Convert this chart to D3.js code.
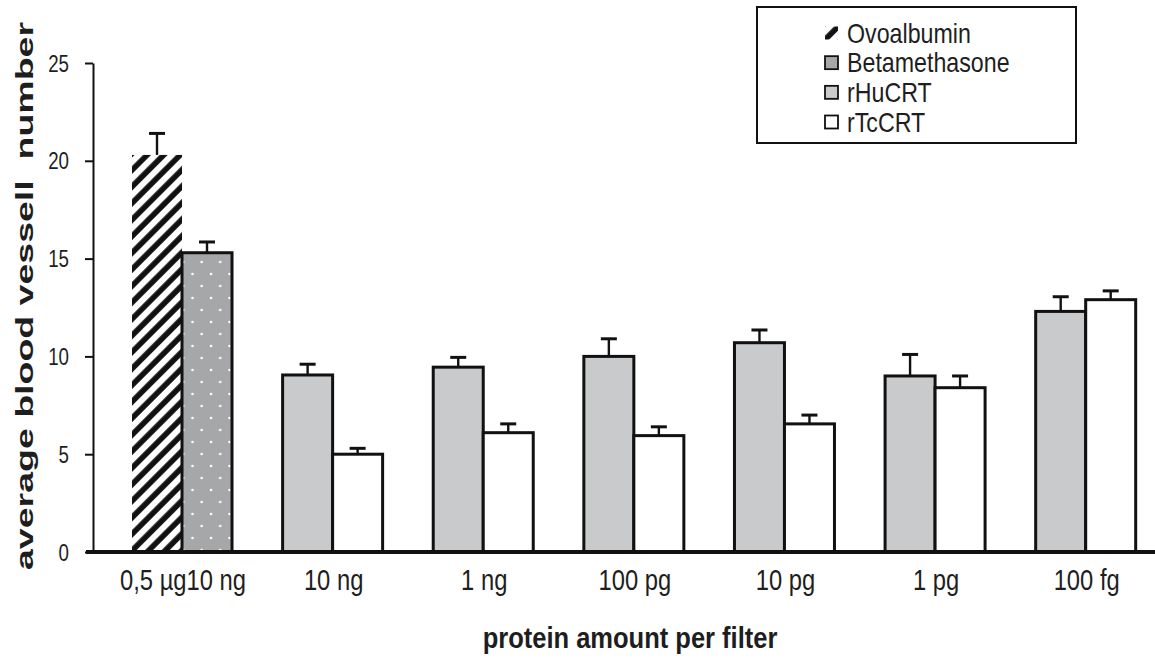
<!DOCTYPE html>
<html>
<head>
<meta charset="utf-8">
<script src="https://cdn.jsdelivr.net/npm/d3@7"></script>
<style>
  html, body { margin: 0; padding: 0; background: #fff; }
  svg { display: block; }
  text { font-family: "Liberation Sans", Arial, sans-serif; fill: #1e1e1e; }
</style>
</head>
<body>
<svg id="chart" width="1155" height="658"></svg>
<script>
// ---- data ----
const categories = ["0,5 µg10 ng", "10 ng", "1 ng", "100 pg", "10 pg", "1 pg", "100 fg"];
const seriesNames = ["Ovoalbumin", "Betamethasone", "rHuCRT", "rTcCRT"];
// first group: controls
const ovoalbumin = [20.3];
const ovoalbuminErr = [1.1];
const betamethasone = [15.3];
const betamethasoneErr = [0.55];
// remaining groups
const rHuCRT    = [9.05, 9.45, 10.0, 10.7, 9.0, 12.3];
const rHuCRTErr = [0.55, 0.5, 0.9, 0.65, 1.1, 0.75];
const rTcCRT    = [5.0, 6.1, 5.95, 6.55, 8.4, 12.9];
const rTcCRTErr = [0.3, 0.45, 0.45, 0.45, 0.6, 0.45];
const yTicks = [0, 5, 10, 15, 20, 25];
const yTitle = "average blood vessell  number";
const xTitle = "protein amount per filter";

// ---- build bar table ----
const bars = [];
bars.push({cat: categories[0], slot: 0, series: "Ovoalbumin", v: ovoalbumin[0], e: ovoalbuminErr[0]});
bars.push({cat: categories[0], slot: 1, series: "Betamethasone", v: betamethasone[0], e: betamethasoneErr[0]});
for (let i = 0; i < rHuCRT.length; i++) {
  bars.push({cat: categories[i + 1], slot: 0, series: "rHuCRT", v: rHuCRT[i], e: rHuCRTErr[i]});
  bars.push({cat: categories[i + 1], slot: 1, series: "rTcCRT", v: rTcCRT[i], e: rTcCRTErr[i]});
}

const svg = d3.select("#chart");

// patterns
const defs = svg.append("defs");
const hatch = defs.append("pattern").attr("id", "hatch")
  .attr("patternUnits", "userSpaceOnUse").attr("width", 11.7).attr("height", 11.7)
  .attr("patternTransform", "rotate(45)");
hatch.append("rect").attr("width", 11.7).attr("height", 11.7).attr("fill", "#fff");
hatch.append("line").attr("x1", 3).attr("x2", 3).attr("y1", 0).attr("y2", 11.7)
  .attr("stroke", "#111").attr("stroke-width", 5.6);
const dots = defs.append("pattern").attr("id", "dots")
  .attr("patternUnits", "userSpaceOnUse").attr("width", 18.5).attr("height", 24)
  .attr("x", 132).attr("y", 4);
dots.append("rect").attr("width", 18.5).attr("height", 24).attr("fill", "#a6a7a9");
dots.append("circle").attr("cx", 5).attr("cy", 6).attr("r", 1.3).attr("fill", "#fff");
dots.append("circle").attr("cx", 14.2).attr("cy", 18).attr("r", 1.3).attr("fill", "#fff");

const fills = {
  "Ovoalbumin": "url(#hatch)",
  "Betamethasone": "url(#dots)",
  "rHuCRT": "#c9cacc",
  "rTcCRT": "#ffffff"
};
const legendFills = {
  "Ovoalbumin": "url(#hatch)",
  "Betamethasone": "#a6a7a9",
  "rHuCRT": "#c9cacc",
  "rTcCRT": "#ffffff"
};

// ---- scales ----
const y = d3.scaleLinear().domain([0, 25]).range([552, 63]);
const x = d3.scaleBand().domain(categories).range([106.7, 1161])
  .paddingInner(0.336).paddingOuter(0.168);
const xs = d3.scaleBand().domain([0, 1]).range([0, x.bandwidth()]);

function ctext(g, tx, ty, str, opts) {
  const sx = opts.sx || 0.8;
  const t = g.append("text")
    .attr("transform", `translate(${tx},${ty}) scale(${sx},1)` + (opts.rotate ? ` rotate(${opts.rotate})` : ""))
    .attr("text-anchor", opts.anchor || "start")
    .attr("font-size", opts.size)
    .attr("font-weight", opts.weight || "normal")
    .style("white-space", "pre")
    .text(str);
  if (opts.dy) t.attr("dy", opts.dy);
  return t;
}

// ---- bars ----
const gBars = svg.append("g");
gBars.selectAll("rect.bar").data(bars).join("rect")
  .attr("class", "bar")
  .attr("x", d => x(d.cat) + xs(d.slot))
  .attr("y", d => y(d.v))
  .attr("width", xs.bandwidth())
  .attr("height", d => y(0) - y(d.v))
  .attr("fill", d => fills[d.series])
  .attr("stroke", d => d.series === "Ovoalbumin" ? "none" : "#111")
  .attr("stroke-width", 3);

// error bars
const gErr = svg.append("g").attr("stroke", "#111");
gErr.selectAll("line.stem").data(bars).join("line")
  .attr("x1", d => x(d.cat) + xs(d.slot) + xs.bandwidth() / 2)
  .attr("x2", d => x(d.cat) + xs(d.slot) + xs.bandwidth() / 2)
  .attr("y1", d => y(d.v))
  .attr("y2", d => y(d.v + d.e))
  .attr("stroke-width", 2.4);
gErr.selectAll("line.cap").data(bars).join("line")
  .attr("x1", d => x(d.cat) + xs(d.slot) + xs.bandwidth() / 2 - 8)
  .attr("x2", d => x(d.cat) + xs(d.slot) + xs.bandwidth() / 2 + 8)
  .attr("y1", d => y(d.v + d.e))
  .attr("y2", d => y(d.v + d.e))
  .attr("stroke-width", 3);

// ---- y axis ----
const gy = svg.append("g").attr("transform", "translate(93,0)")
  .call(d3.axisLeft(y).tickValues(yTicks).tickSize(8).tickSizeOuter(0).tickFormat(""));
gy.select(".domain").attr("stroke", "#111").attr("stroke-width", 2);
gy.selectAll(".tick line").attr("stroke", "#111").attr("stroke-width", 2);
const gyl = svg.append("g");
yTicks.forEach(t => {
  ctext(gyl, 69, y(t), String(t), {size: 24, sx: 0.78, anchor: "end", dy: "0.36em"});
});

// ---- x axis ----
svg.append("line").attr("x1", 86).attr("x2", 1155)
  .attr("y1", y(0)).attr("y2", y(0))
  .attr("stroke", "#111").attr("stroke-width", 4);
const gxl = svg.append("g");
categories.forEach(c => {
  ctext(gxl, x(c) + x.bandwidth() / 2 + 1, 590, c, {size: 29, sx: 0.82, anchor: "middle"});
});

// ---- titles ----
ctext(svg, 630, 648, xTitle, {size: 29, sx: 0.88, anchor: "middle", weight: "bold"});
ctext(svg, 33, 296, yTitle, {size: 37.5, sx: 0.66, anchor: "middle", weight: "bold", rotate: -90});

// ---- legend ----
const lg = svg.append("g");
lg.append("rect").attr("x", 757).attr("y", 7).attr("width", 319).attr("height", 136)
  .attr("fill", "#fff").attr("stroke", "#111").attr("stroke-width", 2);
const rowY = d3.scalePoint().domain(seriesNames).range([33, 122]);
seriesNames.forEach(s => {
  const cy = rowY(s);
  lg.append("rect").attr("x", 825).attr("y", cy - 6.5).attr("width", 13).attr("height", 13)
    .attr("fill", legendFills[s])
    .attr("stroke", s === "Ovoalbumin" ? "none" : "#111").attr("stroke-width", 1.8);
  ctext(lg, 847, cy, s, {size: 27, sx: 0.86, anchor: "start", dy: "0.36em"});
});
</script>
</body>
</html>
